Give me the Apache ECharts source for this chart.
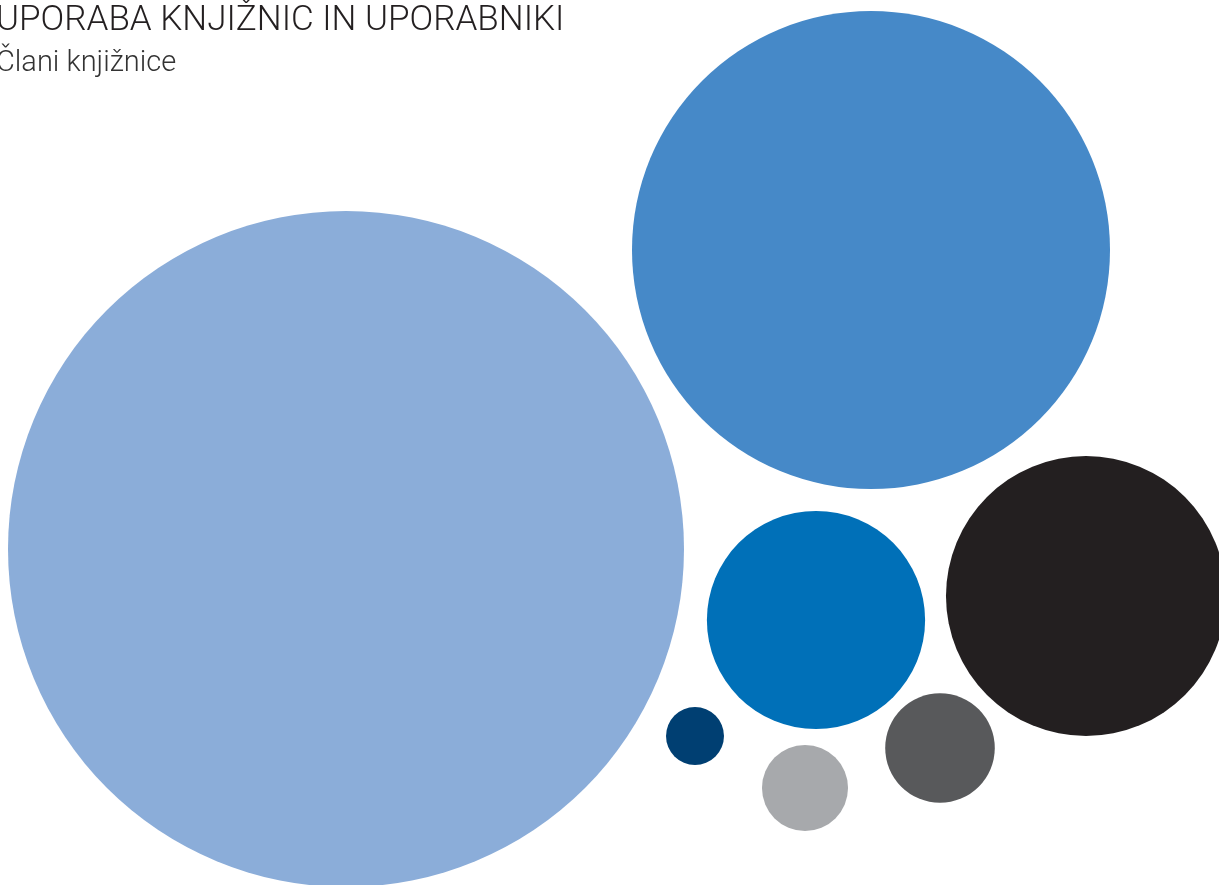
<!DOCTYPE html>
<html>
<head>
<meta charset="utf-8">
<script src="https://cdn.jsdelivr.net/npm/echarts@6/dist/echarts.min.js"></script>
<style>
html,body{margin:0;padding:0;background:#fff}
#chart{width:1219px;height:885px}
</style>
</head>
<body>
<div id="chart"></div>
<script>
// vrednosti (ploščina mehurčka ~ vrednost)
const values=[114.2,57.1,11.9,19.6,3.0,1.85,0.84]
const posX=[346,871,816,1086,940,805,695]
const posY=[549,250,620,596,748,788,736]
const colors=['#8badd9','#4689c8','#0070b8','#231f20','#58595b','#a7a9ac','#003f72']

const maxV=Math.max(...values)
const maxD=676//premer največjega mehurčka

let chart=echarts.init(document.getElementById('chart'))
chart.setOption({
    backgroundColor:'#fff',
    animation:false,
    title:{
        text:'UPORABA KNJIŽNIC IN UPORABNIKI',
        subtext:'Člani knjižnice',
        left:-9,
        top:-1,
        itemGap:10,
        textStyle:{fontFamily:'Roboto',fontWeight:300,fontSize:35,color:'#231f20'},
        subtextStyle:{fontFamily:'Roboto',fontWeight:300,fontSize:29,color:'#333'}
    },
    grid:{left:0,right:0,top:0,bottom:0},
    xAxis:{type:'value',min:0,max:1219,show:false},
    yAxis:{type:'value',min:0,max:885,inverse:true,show:false},
    series:[{
        type:'scatter',
        symbol:'circle',
        data:values.map((v,i)=>({
            value:[posX[i],posY[i],v],
            itemStyle:{color:colors[i]}
        })),
        symbolSize:(d)=>maxD*Math.sqrt(d[2]/maxV),
        itemStyle:{opacity:1}
    }]
})
</script>
</body>
</html>
